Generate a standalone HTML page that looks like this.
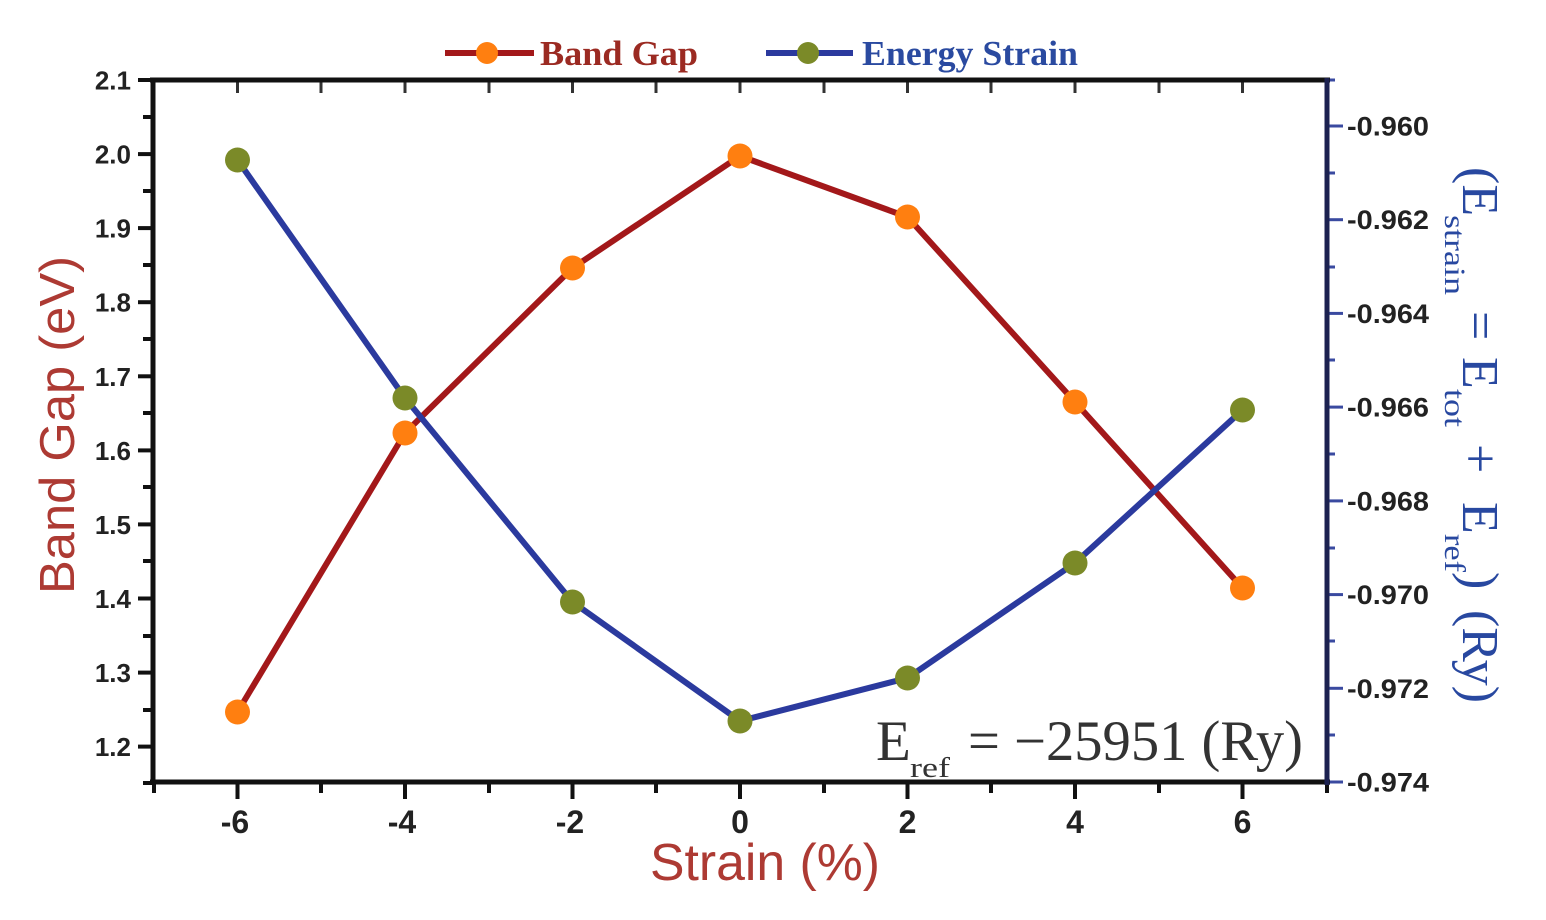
<!DOCTYPE html>
<html><head><meta charset="utf-8"><style>
html,body{margin:0;padding:0;background:#fff;}
svg{display:block;}
</style></head><body>
<svg width="1546" height="920" viewBox="0 0 1546 920" xmlns="http://www.w3.org/2000/svg">
<rect width="1546" height="920" fill="#fff"/>

<!-- top axis inward ticks -->
<g stroke="#333" stroke-width="3">
<line x1="237.5" y1="80" x2="237.5" y2="93"/><line x1="321" y1="80" x2="321" y2="93"/>
<line x1="405" y1="80" x2="405" y2="93"/><line x1="489" y1="80" x2="489" y2="93"/>
<line x1="572.5" y1="80" x2="572.5" y2="93"/><line x1="656" y1="80" x2="656" y2="93"/>
<line x1="740" y1="80" x2="740" y2="93"/><line x1="824" y1="80" x2="824" y2="93"/>
<line x1="907.5" y1="80" x2="907.5" y2="93"/><line x1="991" y1="80" x2="991" y2="93"/>
<line x1="1075" y1="80" x2="1075" y2="93"/><line x1="1159" y1="80" x2="1159" y2="93"/>
<line x1="1242.5" y1="80" x2="1242.5" y2="93"/>
</g>

<!-- left ticks -->
<g stroke="#111" stroke-width="4">
<line x1="138" y1="80" x2="153" y2="80"/><line x1="138" y1="154.1" x2="153" y2="154.1"/>
<line x1="138" y1="228.1" x2="153" y2="228.1"/><line x1="138" y1="302.2" x2="153" y2="302.2"/>
<line x1="138" y1="376.3" x2="153" y2="376.3"/><line x1="138" y1="450.4" x2="153" y2="450.4"/>
<line x1="138" y1="524.4" x2="153" y2="524.4"/><line x1="138" y1="598.5" x2="153" y2="598.5"/>
<line x1="138" y1="672.6" x2="153" y2="672.6"/><line x1="138" y1="746.6" x2="153" y2="746.6"/>
<line x1="143" y1="117" x2="153" y2="117"/><line x1="143" y1="191" x2="153" y2="191"/>
<line x1="143" y1="265" x2="153" y2="265"/><line x1="143" y1="339" x2="153" y2="339"/>
<line x1="143" y1="413" x2="153" y2="413"/><line x1="143" y1="487" x2="153" y2="487"/>
<line x1="143" y1="561" x2="153" y2="561"/><line x1="143" y1="636" x2="153" y2="636"/>
<line x1="143" y1="710" x2="153" y2="710"/><line x1="143" y1="783" x2="153" y2="783"/>
</g>

<!-- bottom ticks -->
<g stroke="#111" stroke-width="4">
<line x1="237.5" y1="782" x2="237.5" y2="799"/><line x1="405" y1="782" x2="405" y2="799"/>
<line x1="572.5" y1="782" x2="572.5" y2="799"/><line x1="740" y1="782" x2="740" y2="799"/>
<line x1="907.5" y1="782" x2="907.5" y2="799"/><line x1="1075" y1="782" x2="1075" y2="799"/>
<line x1="1242.5" y1="782" x2="1242.5" y2="799"/>
<line x1="154" y1="782" x2="154" y2="793"/><line x1="321" y1="782" x2="321" y2="793"/>
<line x1="489" y1="782" x2="489" y2="793"/><line x1="656" y1="782" x2="656" y2="793"/>
<line x1="824" y1="782" x2="824" y2="793"/><line x1="991" y1="782" x2="991" y2="793"/>
<line x1="1159" y1="782" x2="1159" y2="793"/><line x1="1327" y1="782" x2="1327" y2="793"/>
</g>

<!-- right ticks -->
<g stroke="#3a4aa0" stroke-width="3">
<line x1="1327" y1="126" x2="1343" y2="126"/><line x1="1327" y1="219.7" x2="1343" y2="219.7"/>
<line x1="1327" y1="313.4" x2="1343" y2="313.4"/><line x1="1327" y1="407.1" x2="1343" y2="407.1"/>
<line x1="1327" y1="500.9" x2="1343" y2="500.9"/><line x1="1327" y1="594.6" x2="1343" y2="594.6"/>
<line x1="1327" y1="688.3" x2="1343" y2="688.3"/><line x1="1327" y1="782" x2="1343" y2="782"/>
<line x1="1327" y1="80" x2="1335" y2="80"/><line x1="1327" y1="173" x2="1335" y2="173"/>
<line x1="1327" y1="267" x2="1335" y2="267"/><line x1="1327" y1="360" x2="1335" y2="360"/>
<line x1="1327" y1="454" x2="1335" y2="454"/><line x1="1327" y1="548" x2="1335" y2="548"/>
<line x1="1327" y1="641" x2="1335" y2="641"/><line x1="1327" y1="735" x2="1335" y2="735"/>
</g>

<!-- frame -->
<line x1="150" y1="80" x2="1330" y2="80" stroke="#111" stroke-width="5"/>
<line x1="150" y1="782" x2="1330" y2="782" stroke="#111" stroke-width="5"/>
<line x1="153" y1="78" x2="153" y2="785" stroke="#111" stroke-width="5"/>
<line x1="1327" y1="78" x2="1327" y2="785" stroke="#1c2150" stroke-width="5"/>

<!-- left tick labels -->
<g font-family="Liberation Sans, Arial, sans-serif" font-weight="bold" font-size="26" fill="#222" text-anchor="end">
<text x="131" y="89.5">2.1</text><text x="131" y="163.6">2.0</text>
<text x="131" y="237.6">1.9</text><text x="131" y="311.7">1.8</text>
<text x="131" y="385.8">1.7</text><text x="131" y="459.9">1.6</text>
<text x="131" y="533.9">1.5</text><text x="131" y="608">1.4</text>
<text x="131" y="682.1">1.3</text><text x="131" y="756.1">1.2</text>
</g>

<!-- right tick labels -->
<g font-family="Liberation Sans, Arial, sans-serif" font-weight="bold" font-size="27" fill="#222">
<text x="1347" y="135.5" textLength="82" lengthAdjust="spacingAndGlyphs">-0.960</text>
<text x="1347" y="229.2" textLength="82" lengthAdjust="spacingAndGlyphs">-0.962</text>
<text x="1347" y="322.9" textLength="82" lengthAdjust="spacingAndGlyphs">-0.964</text>
<text x="1347" y="416.6" textLength="82" lengthAdjust="spacingAndGlyphs">-0.966</text>
<text x="1347" y="510.4" textLength="82" lengthAdjust="spacingAndGlyphs">-0.968</text>
<text x="1347" y="604.1" textLength="82" lengthAdjust="spacingAndGlyphs">-0.970</text>
<text x="1347" y="697.8" textLength="82" lengthAdjust="spacingAndGlyphs">-0.972</text>
<text x="1347" y="791.5" textLength="82" lengthAdjust="spacingAndGlyphs">-0.974</text>
</g>

<!-- bottom tick labels -->
<g font-family="Liberation Sans, Arial, sans-serif" font-weight="bold" font-size="32" fill="#222" text-anchor="middle">
<text x="235" y="833">-6</text><text x="402" y="833">-4</text><text x="570" y="833">-2</text>
<text x="740" y="833">0</text><text x="907.5" y="833">2</text><text x="1075" y="833">4</text><text x="1242.5" y="833">6</text>
</g>

<!-- series lines -->
<polyline points="237.5,712 405,433 572.5,268 740,156 907.5,217 1075,402 1242.5,588" fill="none" stroke="#a3181a" stroke-width="6" stroke-linejoin="round"/>
<polyline points="237.5,160 405,398 572.5,602 740,721 907.5,678 1075,563 1242.5,410" fill="none" stroke="#2b3a9e" stroke-width="6" stroke-linejoin="round"/>

<!-- markers -->
<g fill="#ff7f10">
<circle cx="237.5" cy="712" r="12.5"/><circle cx="405" cy="433" r="12.5"/><circle cx="572.5" cy="268" r="12.5"/>
<circle cx="740" cy="156" r="12.5"/><circle cx="907.5" cy="217" r="12.5"/><circle cx="1075" cy="402" r="12.5"/>
<circle cx="1242.5" cy="588" r="12.5"/>
</g>
<g fill="#7b8a28">
<circle cx="237.5" cy="160" r="12.5"/><circle cx="405" cy="398" r="12.5"/><circle cx="572.5" cy="602" r="12.5"/>
<circle cx="740" cy="721" r="12.5"/><circle cx="907.5" cy="678" r="12.5"/><circle cx="1075" cy="563" r="12.5"/>
<circle cx="1242.5" cy="410" r="12.5"/>
</g>

<!-- legend -->
<line x1="445" y1="53" x2="534" y2="53" stroke="#a3181a" stroke-width="6"/>
<circle cx="487" cy="53" r="11" fill="#ff7f10"/>
<text x="540" y="65" font-family="Liberation Serif, Times New Roman, serif" font-weight="bold" font-size="35" fill="#9b2a22" textLength="158" lengthAdjust="spacingAndGlyphs">Band Gap</text>
<line x1="766" y1="53" x2="853" y2="53" stroke="#2b3a9e" stroke-width="6"/>
<circle cx="808" cy="53" r="11" fill="#7b8a28"/>
<text x="862" y="65" font-family="Liberation Serif, Times New Roman, serif" font-weight="bold" font-size="35" fill="#2a4aa0" textLength="216" lengthAdjust="spacingAndGlyphs">Energy Strain</text>

<!-- axis titles -->
<text transform="translate(74,425) rotate(-90)" text-anchor="middle" font-family="Liberation Sans, Arial, sans-serif" font-size="49" fill="#ad3a33" textLength="338" lengthAdjust="spacingAndGlyphs">Band Gap (eV)</text>
<text x="765" y="880" text-anchor="middle" font-family="Liberation Sans, Arial, sans-serif" font-size="52" fill="#ad3a33" textLength="230" lengthAdjust="spacingAndGlyphs">Strain (%)</text>

<!-- right title -->
<g transform="translate(1463,0) rotate(90)" font-family="Liberation Serif, Times New Roman, serif" fill="#2848a0">
<text x="167" y="0" font-size="52">(E</text>
<text x="215" y="18" font-size="30" textLength="80" lengthAdjust="spacingAndGlyphs">strain</text>
<text x="311" y="0" font-size="52">=</text>
<text x="357" y="0" font-size="52">E</text>
<text x="389" y="18" font-size="30" textLength="38" lengthAdjust="spacingAndGlyphs">tot</text>
<text x="444" y="0" font-size="52">+</text>
<text x="502" y="0" font-size="52">E</text>
<text x="534" y="18" font-size="30" textLength="38" lengthAdjust="spacingAndGlyphs">ref</text>
<text x="572" y="0" font-size="52">)</text>
<text x="610" y="0" font-size="52" textLength="93" lengthAdjust="spacingAndGlyphs">(Ry)</text>
</g>

<!-- annotation -->
<g font-family="Liberation Serif, Times New Roman, serif" fill="#333">
<text x="876" y="760" font-size="57">E</text>
<text x="910" y="777" font-size="28" textLength="40" lengthAdjust="spacingAndGlyphs">ref</text>
<text x="968" y="760" font-size="57" textLength="335" lengthAdjust="spacingAndGlyphs">= −25951 (Ry)</text>
</g>
</svg>
</body></html>
